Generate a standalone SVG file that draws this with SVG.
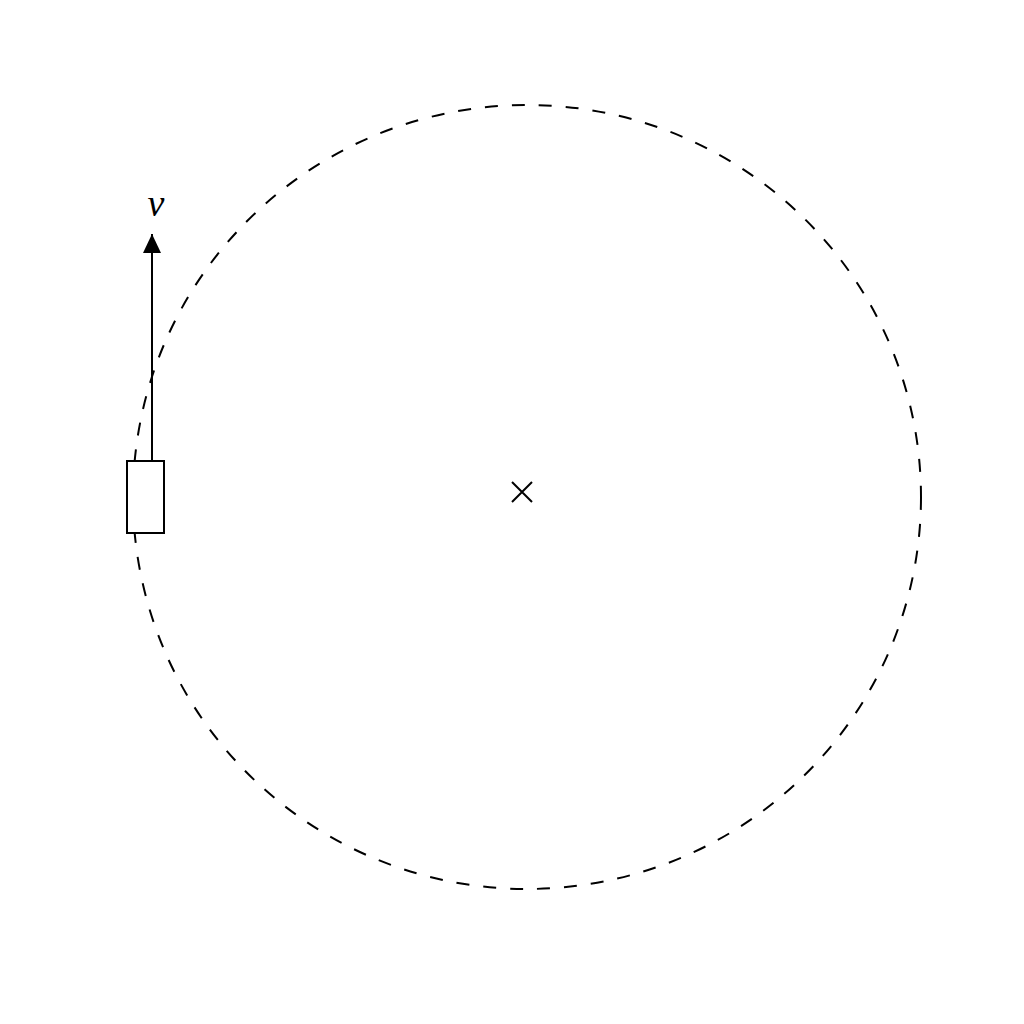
<svg xmlns="http://www.w3.org/2000/svg" width="1024" height="1024" viewBox="0 0 1024 1024">
  <style>
    .orbit { fill: none; stroke: #000; stroke-width: 2; stroke-dasharray: 13 14; }
    .line { fill: none; stroke: #000; stroke-width: 2; }
    .body { fill: #fff; stroke: #000; stroke-width: 2; }
    .label { font-family: "Liberation Serif", "DejaVu Serif", serif; font-style: italic; font-size: 38px; fill: #000; }
  </style>
  <defs>
    <marker id="arrow" markerWidth="20" markerHeight="20" refX="19" refY="9" orient="auto" markerUnits="userSpaceOnUse">
      <path d="M0,0 L19,9 L0,18 Z" fill="#000"/>
    </marker>
  </defs>
  <rect width="1024" height="1024" fill="#fff"/>
  <g id="orbit">
    <ellipse class="orbit" cx="527" cy="497" rx="394" ry="392"/>
  </g>
  <g id="center">
    <path class="line" d="M512,482 L532,502 M532,482 L512,502"/>
  </g>
  <g id="connectors">
    <line class="line" x1="152" y1="461" x2="152" y2="234" marker-end="url(#arrow)"/>
  </g>
  <g id="body">
    <rect class="body" x="127" y="461" width="37" height="72"/>
  </g>
  <g id="label-v">
    <text class="label" x="156" y="216" text-anchor="middle">v</text>
  </g>
</svg>
